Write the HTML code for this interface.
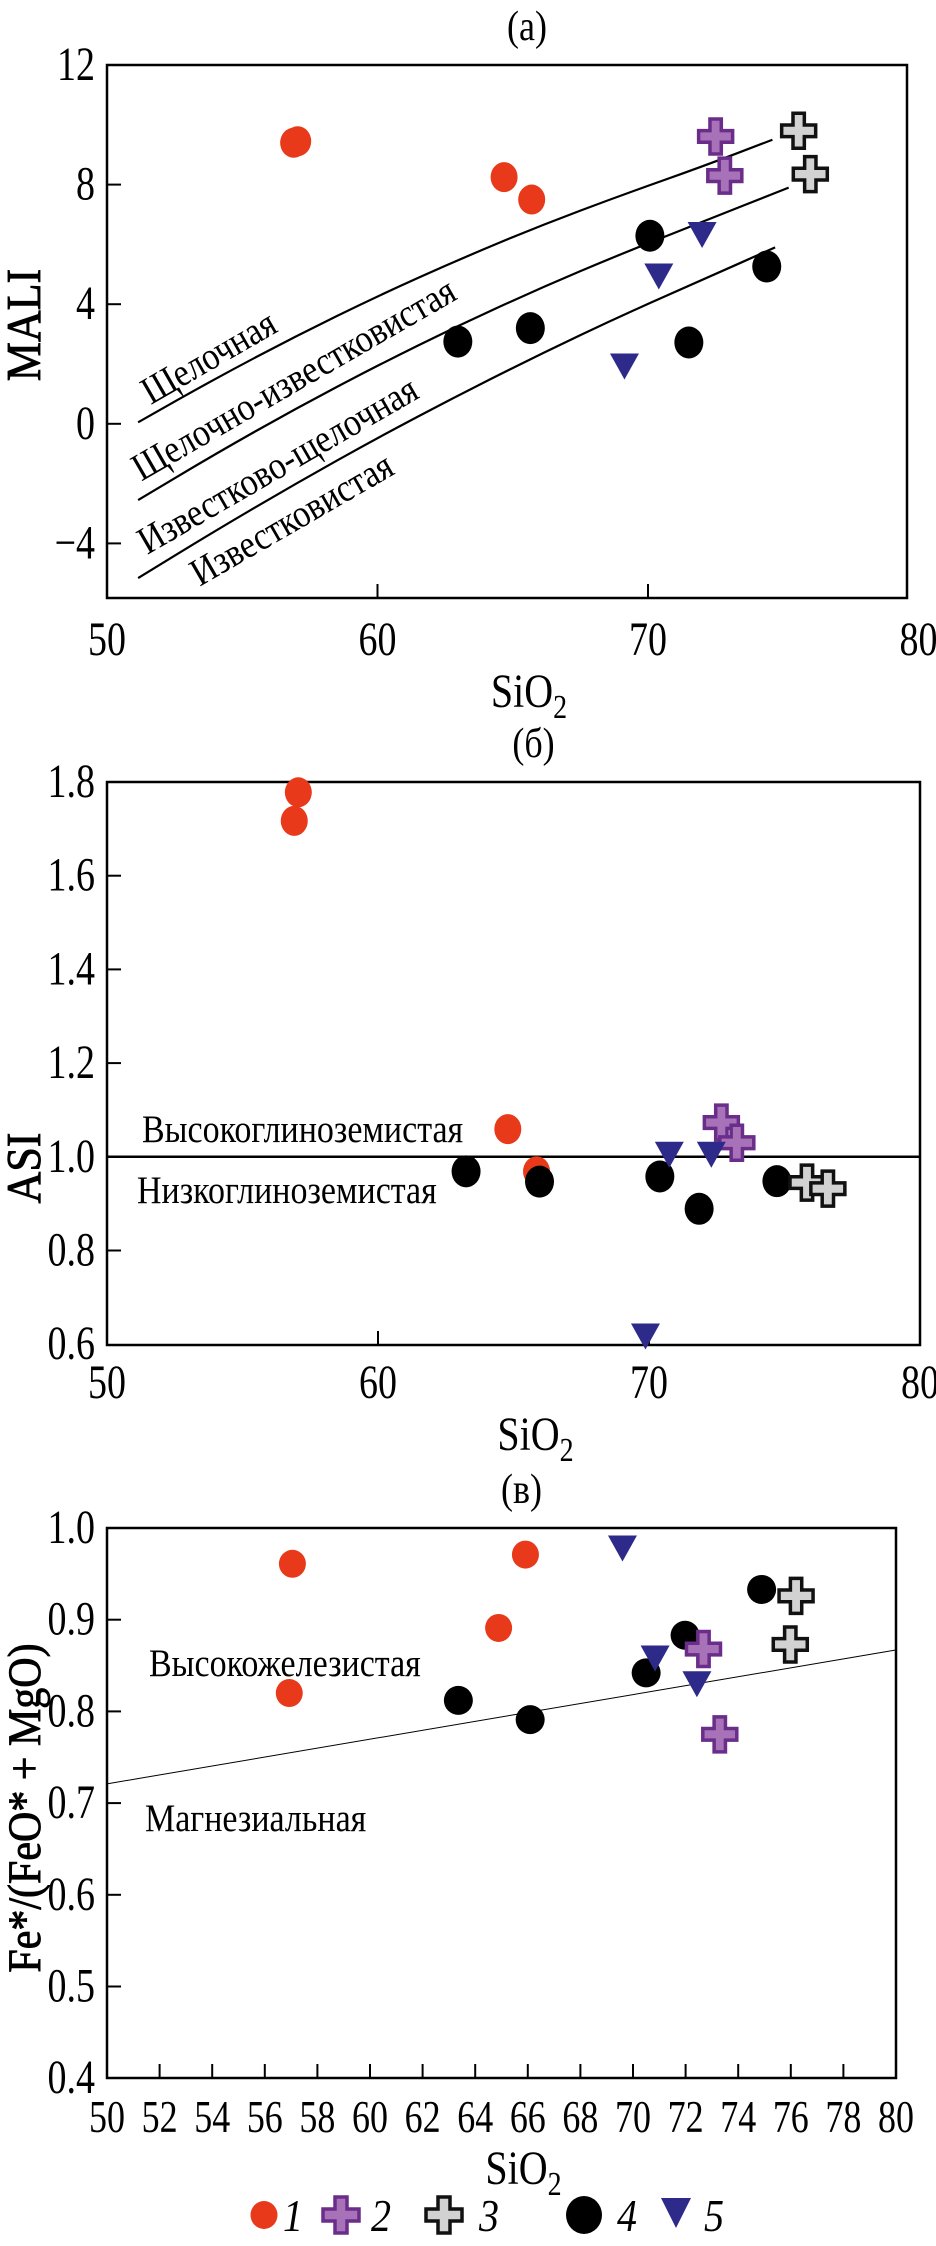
<!DOCTYPE html>
<html><head><meta charset="utf-8"><style>
html,body{margin:0;padding:0;background:#fff;}
svg, svg text{font-family:"Liberation Serif","Times New Roman",serif;}
</style></head><body>
<svg id="fig" width="936" height="2241" viewBox="0 0 936 2241" xmlns="http://www.w3.org/2000/svg" font-family="'Liberation Serif', 'Times New Roman', serif"></svg>
<script>
// ---------- DATA ----------
// Panel (a) MALI vs SiO2
const aRedX=[56.9,57.05,64.68,65.70];
const aRedY=[9.40,9.45,8.25,7.50];
const aPurX=[72.5,72.84];
const aPurY=[9.61,8.30];
const aGrayX=[75.57,76.0];
const aGrayY=[9.80,8.35];
const aBlkX=[62.97,65.65,70.07,71.51,74.39];
const aBlkY=[2.75,3.20,6.29,2.72,5.26];
const aBluX=[69.13,70.4,72.0];
const aBluY=[2.05,5.06,6.45];
const curveX=[51.15,54,57,60,63,66,69,72,74.6];
const curve1Y=[0.05,1.51,2.94,4.27,5.49,6.62,7.64,8.6,9.5];
const curve2X=[51.15,54,57,60,63,66,69,72,75.2];
const curve2Y=[-2.55,-1.01,0.52,1.95,3.29,4.53,5.68,6.75,7.9];
const curve3X=[51.15,54,57,60,63,66,69,72,74.7];
const curve3Y=[-5.16,-3.58,-1.99,-0.47,0.96,2.32,3.61,4.81,5.9];
const aYTicks=[12,8,4,0,-4];
const aXTicks=[50,60,70,80];
// Panel (б) ASI vs SiO2
const bRedX=[57.06,56.91,64.79,65.85];
const bRedY=[1.778,1.717,1.059,0.969];
const bBlkX=[63.25,65.96,70.40,71.85,74.72];
const bBlkY=[0.969,0.947,0.958,0.889,0.948];
const bPurX=[72.67,73.24];
const bPurY=[1.073,1.030];
const bGrayX=[75.83,76.6];
const bGrayY=[0.945,0.932];
const bBluX=[70.75,72.3,69.87];
const bBluY=[1.013,1.013,0.625];
const bYTicks=[1.8,1.6,1.4,1.2,1.0,0.8,0.6];
const bXTicks=[50,60,70,80];
// Panel (в) Fe* vs SiO2
const cRedX=[57.05,56.93,64.89,65.91];
const cRedY=[0.961,0.820,0.891,0.971];
const cBlkX=[63.36,66.09,70.5,71.98,74.89];
const cBlkY=[0.812,0.791,0.842,0.883,0.933];
const cPurX=[72.68,73.3];
const cPurY=[0.868,0.775];
const cGrayX=[76.2,75.98];
const cGrayY=[0.926,0.873];
const cBluX=[69.6,70.84,72.43];
const cBluY=[0.982,0.862,0.834];
const cLineX=[50,80];
const cLineY=[0.721,0.867];
const cYTicks=[1.0,0.9,0.8,0.7,0.6,0.5,0.4];
const cXTicks=[50,52,54,56,58,60,62,64,66,68,70,72,74,76,78,80];

// ---------- helpers ----------
const NS="http://www.w3.org/2000/svg";
const FONT="'Liberation Serif', 'Times New Roman', serif";
const svg=document.getElementById('fig');
function mk(tag,attrs,parent){const e=document.createElementNS(NS,tag);for(const k in attrs)e.setAttribute(k,attrs[k]);(parent||svg).appendChild(e);return e;}
function txt(str,x,y,size,parent,extra,sy){sy=sy||1.18;
 const a=Object.assign({x:0,y:0,'font-size':size,fill:'#000','font-family':FONT,transform:`translate(${x},${y}) scale(1,${sy})`},extra||{});
 const t=mk('text',a,parent);t.textContent=str;return t;}
function crossPath(cx,cy,w,h){const a=w/6,b=h/6;const hw=w/2,hh=h/2;
 return `M${cx-a},${cy-hh}H${cx+a}V${cy-b}H${cx+hw}V${cy+b}H${cx+a}V${cy+hh}H${cx-a}V${cy+b}H${cx-hw}V${cy-b}H${cx-a}Z`;}

function makePanel(cfg){
 const g=mk('g',{});
 
 
 const X=v=>cfg.x0+(v-50)*cfg.xs;
 const Y=v=>cfg.yTop+(cfg.yMax-v)*cfg.ys;
 const fr=mk('rect',{x:cfg.x0,y:cfg.yTop,width:cfg.right-cfg.x0,height:cfg.bottom-cfg.yTop,fill:'none',stroke:'#000','stroke-width':2.5},g);
 
 
 const t=txt(cfg.title,(cfg.x0+cfg.right)/2+20,cfg.yTop-25,36,g,{'text-anchor':'middle'});
 
 
 cfg.yTicks.forEach(v=>{const y=Y(v);
  if(y>cfg.yTop+2&&y<cfg.bottom-2){const l=mk('line',{x1:cfg.x0,x2:cfg.x0+14,y1:y,y2:y,stroke:'#000','stroke-width':2},g);
   }
  const s=(v<0?'\u2212'+Math.abs(v):(cfg.yDec?v.toFixed(1):String(v)));
  const tl=txt(s,95,y+15,38,g,{'text-anchor':'end'},1.25);
  
  
 });
 cfg.xTicks.forEach(v=>{const x=X(v);
  if(x>cfg.x0+2&&x<cfg.right-2){const l=mk('line',{x1:x,x2:x,y1:cfg.bottom,y2:cfg.bottom-14,stroke:'#000','stroke-width':2},g);
   }
  const tl=txt(String(v),x,cfg.xLabY,cfg.xTickSize||38,g,{'text-anchor':'middle'},1.25);
  
  
 });
 const xt=mk('text',{x:0,y:0,'font-size':40,'text-anchor':'middle','font-family':FONT,transform:`translate(${(cfg.x0+cfg.right)/2+22},${cfg.xLabY+52}) scale(1,1.2)`},g);
 
 
 xt.innerHTML='SiO<tspan font-size="28" dy="9">2</tspan>';
 const yt=mk('text',{x:0,y:0,'font-size':cfg.yTitleSize||44,'text-anchor':'middle','font-family':FONT,stroke:'#000','stroke-width':0.8,transform:`translate(40,${cfg.yTitleY}) rotate(-90) scale(1,1.1)`},g);
 yt.textContent=cfg.yTitle;
 
 
 return {g,X,Y};
}
function circles(p,xs,ys,rx,ry,fill,name){xs.forEach((x,i)=>{const c=mk('ellipse',{cx:p.X(x),cy:p.Y(ys[i]),rx:rx,ry:ry,fill:fill},p.g);
 });}
function crosses(p,xs,ys,fill,stroke,name){xs.forEach((x,i)=>{const c=mk('path',{d:crossPath(p.X(x),p.Y(ys[i]),34,35),fill:fill,stroke:stroke,'stroke-width':3.5,'stroke-linejoin':'miter'},p.g);
 });}
function tris(p,xs,ys,name){xs.forEach((x,i)=>{const cx=p.X(x),cy=p.Y(ys[i]);
 const c=mk('path',{d:`M${cx-14.5},${cy-9}L${cx+14.5},${cy-9}L${cx},${cy+17}Z`,fill:'#2e2a8a'},p.g);
 });}
function line(p,xs,ys,w,name){const d=xs.map((x,i)=>(i?'L':'M')+p.X(x)+','+p.Y(ys[i])).join('');
 const l=mk('path',{d:d,fill:'none',stroke:'#000','stroke-width':w,'stroke-linejoin':'round'},p.g);
 }
function smooth(p,xs,ys,name){let d='M'+p.X(xs[0])+','+p.Y(ys[0]);
 for(let i=1;i<xs.length;i++){const x0=p.X(xs[i-1]),y0=p.Y(ys[i-1]),x1=p.X(xs[i]),y1=p.Y(ys[i]);
  const xm=(x0+x1)/2,ym=(y0+y1)/2; d+=(i==1?'L':'Q'+x0+','+y0+' ')+xm+','+ym;}
 d+='L'+p.X(xs[xs.length-1])+','+p.Y(ys[ys.length-1]);
 const l=mk('path',{d:d,fill:'none',stroke:'#000','stroke-width':2.2},p.g);
 }
function label(p,str,x,y,rot,name,size){const t=mk('text',{x:0,y:0,'font-size':size||34,'text-anchor':'middle','font-family':FONT,fill:'#000',transform:`translate(${x},${y}) rotate(${rot}) scale(1,1.15)`},p.g);
 t.textContent=str;
 }

// ---------- Panel A ----------
const A=makePanel({name:'panel-a-mali',title:'(а)',x0:107,xs:27.05,right:907,yTop:65,yMax:12,ys:29.9,bottom:598,
 yTicks:aYTicks,xTicks:aXTicks,xLabY:655,yTitle:'MALI',yTitleY:325});
smooth(A,curveX,curve1Y,'boundary-alkalic');
smooth(A,curve2X,curve2Y,'boundary-alkali-calcic');
smooth(A,curve3X,curve3Y,'boundary-calc-alkalic');
label(A,'Щелочная',215,368,-30,'label-alkalic');
label(A,'Щелочно-известковистая',300,390,-30,'label-alkali-calcic');
label(A,'Известково-щелочная',284,476,-30,'label-calc-alkalic');
label(A,'Известковистая',298,530,-30,'label-calcic');
circles(A,aRedX,aRedY,13.5,15,'#e8391a','point-group-1');
crosses(A,aPurX,aPurY,'#a872b8','#6a2d8a','point-group-2');
crosses(A,aGrayX,aGrayY,'#d2d2d2','#111','point-group-3');
circles(A,aBlkX,aBlkY,14.5,16,'#000','point-group-4');
tris(A,aBluX,aBluY,'point-group-5');

// ---------- Panel B ----------
const B=makePanel({name:'panel-b-asi',title:'(б)',x0:107,xs:27.1,right:920,yTop:782,yMax:1.8,ys:468.5,bottom:1345,
 yTicks:bYTicks,xTicks:bXTicks,xLabY:1398,yTitle:'ASI',yTitleY:1168,yDec:true});
line(B,[50,80],[1.0,1.0],2.5,'boundary-asi-1');
const bl1=txt('Высокоглиноземистая',142,1142,34,B.g,{},1.15);

const bl2=txt('Низкоглиноземистая',137,1203,34,B.g,{},1.15);

circles(B,bRedX,bRedY,13.5,15,'#e8391a','point-group-1');
circles(B,bBlkX,bBlkY,14.5,16,'#000','point-group-4');
crosses(B,bPurX,bPurY,'#a872b8','#6a2d8a','point-group-2');
crosses(B,bGrayX,bGrayY,'#d2d2d2','#111','point-group-3');
tris(B,bBluX,bBluY,'point-group-5');

// ---------- Panel C ----------
const C=makePanel({name:'panel-c-fe-number',title:'(в)',x0:107,xs:26.3,right:896,yTop:1528,yMax:1.0,ys:917,bottom:2078,
 yTicks:cYTicks,xTicks:cXTicks,xLabY:2132,xTickSize:36,yTitle:'Fe*/(FeO* + MgO)',yTitleY:1808,yTitleSize:42,yDec:true});
line(C,cLineX,cLineY,1,'boundary-ferroan-magnesian');
const cl1=txt('Высокожелезистая',149,1676,34,C.g,{},1.15);

const cl2=txt('Магнезиальная',145,1831,34,C.g,{},1.15);

circles(C,cRedX,cRedY,13.5,14,'#e8391a','point-group-1');
circles(C,cBlkX,cBlkY,14.5,14.5,'#000','point-group-4');
crosses(C,cPurX,cPurY,'#a872b8','#6a2d8a','point-group-2');
crosses(C,cGrayX,cGrayY,'#d2d2d2','#111','point-group-3');
tris(C,cBluX,cBluY,'point-group-5');

// ---------- Legend ----------
const lg=mk('g',{});


const e1=mk('ellipse',{cx:264,cy:2215,rx:13.5,ry:14,fill:'#e8391a'},lg);

const e2=mk('path',{d:crossPath(341,2215,36,36),fill:'#a872b8',stroke:'#6a2d8a','stroke-width':3.5},lg);

const e3=mk('path',{d:crossPath(444,2215,36,36),fill:'#d2d2d2',stroke:'#111','stroke-width':3.5},lg);

const e4=mk('ellipse',{cx:584,cy:2215,rx:18,ry:19,fill:'#000'},lg);

const e5=mk('path',{d:'M661,2198L691,2198L676,2228Z',fill:'#2e2a8a'},lg);

[['1',293],['2',381],['3',489],['4',627],['5',714]].forEach(([s,x])=>{
 const t=txt(s,x,2231,40,lg,{'text-anchor':'middle','font-style':'italic'},1.15);
 
 
});
</script>
</body></html>
